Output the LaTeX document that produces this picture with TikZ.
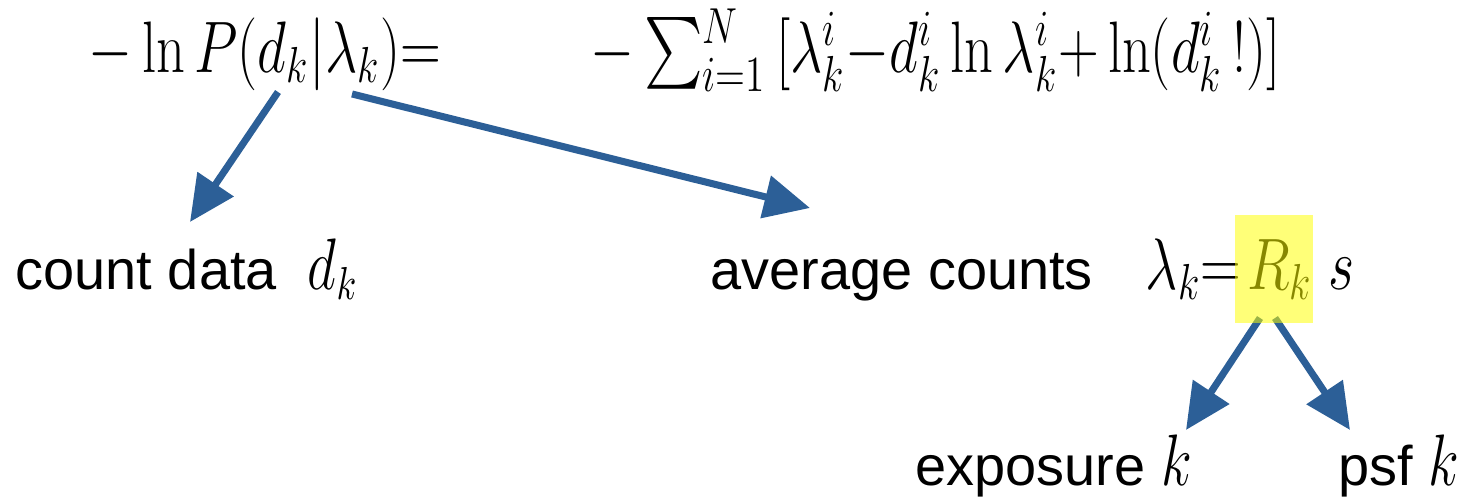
\documentclass[tikz,border=0pt]{standalone}
\usepackage{amsmath,amssymb}
\usepackage[no-math]{fontspec}
\setmainfont{Liberation Sans}
\usetikzlibrary{arrows.meta,positioning,calc}
\definecolor{arrowblue}{HTML}{2C5F97}
\definecolor{marker}{HTML}{FFFF00}
% tall narrow math, as in the reference
\newcommand{\tm}[2][0.93]{\scalebox{#1}[1.2]{$#2$}}
\newcommand{\bigsum}{\mathop{\raisebox{-4pt}{\resizebox{!}{17pt}{\raisebox{\depth}{$\sum$}}}}}

\begin{document}
\begin{tikzpicture}[x=0.01cm,y=-0.01cm,
    lbl/.style={inner sep=0pt,anchor=base west,font=\fontsize{15.9}{19}\selectfont},
    eq/.style={inner sep=0pt,anchor=base west,font=\fontsize{16.5}{20}\selectfont},
    link/.style={arrowblue,line width=2pt,-{Triangle[length=13pt,width=12pt]}},
    hl/.style={fill=marker,opacity=0.53}]
  \useasboundingbox (0,0) rectangle (1470,497);

  % Likelihood
  \node[eq] (lhs) at (88,72) {\tm{-\ln P(d_k|\lambda_k){=}}};
  \node[eq] (rhs) at (590,72) {\tm[0.93]{-\bigsum\nolimits_{i=1}^{\lower1.5pt\hbox{$\scriptstyle N$}}\,[\lambda_k^i{-}d_k^i\ln\lambda_k^i{+}\ln(d_k^i\,!)]}};

  % Labels
  \node[lbl] (cnt) at (15,289) {count data\ \ \tm{d_k}};
  \node[lbl] (avg) at (710,289) {average counts};
  \node[eq] (lam) at (1145,289) {\tm{\lambda_k{=}}};
  \node[eq] (Rk) at (1247,289) {\tm{R_k}};
  \node[eq,right=4pt of Rk.base east,anchor=base west] (s) {\tm{s}};
  \node[lbl] (expo) at (915,485) {exposure \tm{k}};
  \node[lbl] (psf) at (1338,485) {psf \tm{k}};

  % Arrow ends
  \coordinate (dk) at (278,92);
  \coordinate (lk) at (352,94);
  \coordinate (Rl) at (1260,318);
  \coordinate (Rr) at (1275,318);
  \coordinate (cntin) at (190,222);
  \coordinate (avgin) at (810,208);
  \coordinate (expoin) at (1186,430);
  \coordinate (psfin) at (1350,430);

  \draw[link] (dk) -- (cntin);
  \draw[link] (lk) -- (avgin);
  \draw[link] (Rl) -- (expoin);
  \draw[link] (Rr) -- (psfin);

  % Highlight
  \fill[hl] (1235,215) rectangle (1313,323);
\end{tikzpicture}
\end{document}
